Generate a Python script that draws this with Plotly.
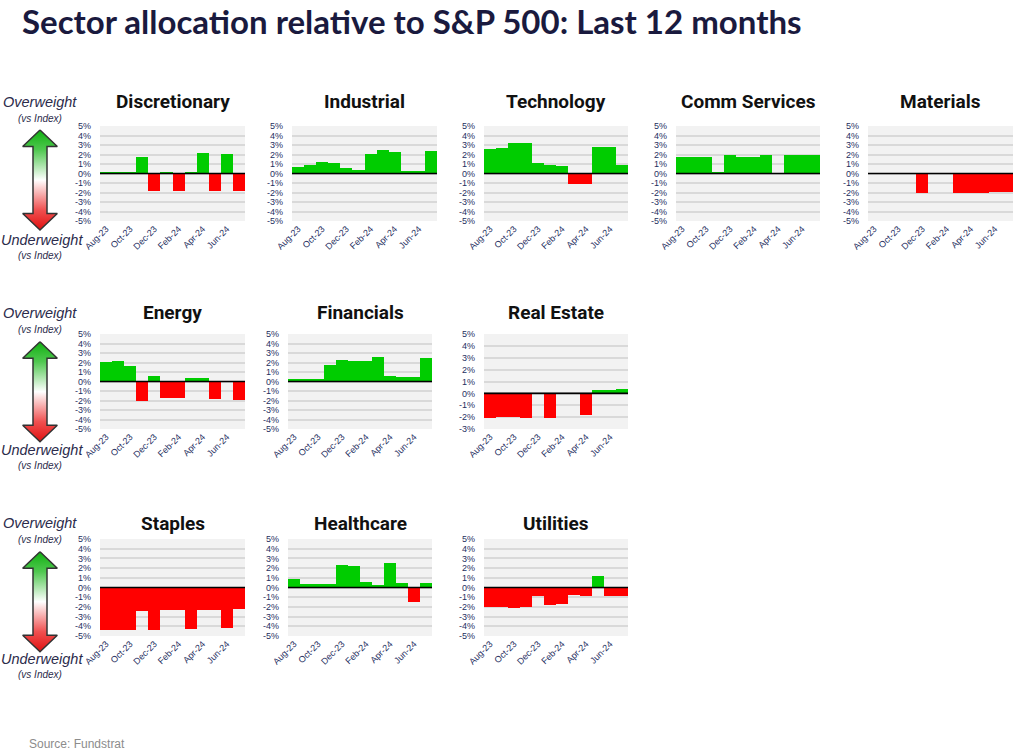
import plotly.graph_objects as go

# ---------------- data ----------------
months = ["Aug-23", "Sep-23", "Oct-23", "Nov-23", "Dec-23", "Jan-24",
          "Feb-24", "Mar-24", "Apr-24", "May-24", "Jun-24", "Jul-24"]
tick_months = ["Aug-23", "Oct-23", "Dec-23", "Feb-24", "Apr-24", "Jun-24"]

discretionary = [0.2, 0.2, 0.2, 1.7, -1.8, 0.2, -1.8, 0.2, 2.2, -1.8, 2.1, -1.8]
industrial = [0.7, 0.9, 1.2, 1.1, 0.6, 0.4, 2.1, 2.5, 2.3, 0.3, 0.3, 2.4]
technology = [2.6, 2.7, 3.2, 3.2, 1.1, 0.9, 0.8, -1.1, -1.1, 2.8, 2.8, 0.9]
comm_services = [1.7, 1.7, 1.7, 0.2, 2.0, 1.7, 1.7, 2.0, 0.0, 2.0, 1.9, 2.0]
materials = [0.0, 0.0, 0.0, 0.0, -2.1, 0.0, 0.0, -2.1, -2.1, -2.0, -1.9, -1.9]
energy = [2.1, 2.2, 1.6, -2.0, 0.6, -1.7, -1.7, 0.4, 0.4, -1.8, 0.0, -1.9]
financials = [0.25, 0.25, 0.3, 1.75, 2.25, 2.2, 2.2, 2.6, 0.6, 0.5, 0.5, 2.5]
real_estate = [-2.05, -2.0, -2.0, -2.1, 0.0, -2.05, 0.0, 0.0, -1.8, 0.3, 0.3, 0.35]
staples = [-4.4, -4.4, -4.4, -2.4, -4.35, -2.3, -2.3, -4.3, -2.3, -2.3, -4.15, -2.2]
healthcare = [0.85, 0.35, 0.35, 0.35, 2.3, 2.2, 0.55, 0.25, 2.5, 0.5, -1.5, 0.5]
utilities = [-2.05, -2.05, -2.15, -2.0, -0.9, -1.8, -1.7, -0.75, -0.85, 1.2, -0.85, -0.85]

y_ticks_full = [-5, -4, -3, -2, -1, 0, 1, 2, 3, 4, 5]
y_ticks_re = [-3, -2, -1, 0, 1, 2, 3, 4, 5]

title_text = "Sector allocation relative to S&P 500: Last 12 months"
source_text = "Source: Fundstrat"

# ---------------- layout helpers ----------------
PAGE_W, PAGE_H = 1024, 756
OFF = 0                      # body margin removed by post_script
W, H = PAGE_W - OFF, PAGE_H - OFF


def px(x):
    """page pixel x -> paper fraction"""
    return (x - OFF) / W


def py(y):
    """page pixel y -> paper fraction"""
    return 1 - (y - OFF) / H


GREEN = "#00cc00"
RED = "#ff0000"
TICK_COLOR = "#1f2f5f"
TICK_FONT = dict(family="Liberation Sans, Arial, sans-serif", size=9, color=TICK_COLOR)
PANEL_TITLE_FONT = dict(family="Roboto, sans-serif", size=19, color="#111111")

# rows: (panel top, panel bottom, panel-title y) in page pixels
rows = {1: (126, 221, 101), 2: (334, 429, 313), 3: (539, 636, 523)}

panels = [
    ("Discretionary", discretionary, 1, 100, 245, y_ticks_full),
    ("Industrial", industrial, 1, 292, 437, y_ticks_full),
    ("Technology", technology, 1, 484, 628, y_ticks_full),
    ("Comm Services", comm_services, 1, 676, 820, y_ticks_full),
    ("Materials", materials, 1, 868, 1013, y_ticks_full),
    ("Energy", energy, 2, 100, 245, y_ticks_full),
    ("Financials", financials, 2, 288, 432, y_ticks_full),
    ("Real Estate", real_estate, 2, 484, 628, y_ticks_re),
    ("Staples", staples, 3, 100, 245, y_ticks_full),
    ("Healthcare", healthcare, 3, 288, 432, y_ticks_full),
    ("Utilities", utilities, 3, 484, 628, y_ticks_full),
]

fig = go.Figure()
layout = {}
shapes = []
annotations = []

for i, (name, vals, row, x0, x1, yt) in enumerate(panels, start=1):
    y0, y1, ty = rows[row]
    xa = "x" if i == 1 else f"x{i}"
    ya = "y" if i == 1 else f"y{i}"
    xkey = "xaxis" if i == 1 else f"xaxis{i}"
    ykey = "yaxis" if i == 1 else f"yaxis{i}"
    fig.add_trace(go.Bar(
        x=months, y=vals, xaxis=xa, yaxis=ya, showlegend=False,
        marker=dict(color=[GREEN if v >= 0 else RED for v in vals], line=dict(width=0)),
        hovertemplate="%{x}: %{y}%<extra>" + name + "</extra>",
    ))
    layout[xkey] = dict(
        domain=[px(x0), px(x1)], anchor=ya, type="category",
        categoryorder="array", categoryarray=months,
        tickmode="array", tickvals=tick_months, ticktext=tick_months,
        tickangle=-45, tickfont=TICK_FONT, showgrid=False, zeroline=False,
        showline=False, ticks="", fixedrange=True, range=[-0.5, 11.5],
        automargin=False,
    )
    layout[ykey] = dict(
        domain=[py(y1), py(y0)], anchor=xa, range=[yt[0], yt[-1]],
        tickmode="array", tickvals=yt, ticktext=[f"{v}%" for v in yt],
        showgrid=True, gridcolor="#d9d9d9", gridwidth=1.5, zeroline=False,
        showline=False, ticks="", tickfont=TICK_FONT, ticklabelstandoff=8,
        fixedrange=True, automargin=False,
    )
    shapes.append(dict(type="rect", xref=f"{xa} domain", yref=f"{ya} domain",
                       x0=0, x1=1, y0=0, y1=1, fillcolor="#f2f2f2",
                       line=dict(width=0), layer="below"))
    shapes.append(dict(type="line", xref=f"{xa} domain", yref=ya,
                       x0=0, x1=1, y0=0, y1=0,
                       line=dict(color="#000000", width=1.6), layer="above"))
    annotations.append(dict(text=f"<b>{name}</b>", xref="paper", yref="paper",
                            x=px((x0 + x1) / 2), y=py(ty), showarrow=False,
                            xanchor="center", yanchor="middle", font=PANEL_TITLE_FONT))

# ---------------- overweight / underweight arrows ----------------
n = len(panels) + 1
ov_x, ov_y = f"x{n}", f"y{n}"
# overlay axis in page pixels: x = page x, y = PAGE_H - page y
layout[f"xaxis{n}"] = dict(domain=[0, 1], range=[OFF, PAGE_W], visible=False, fixedrange=True,
                           automargin=False, anchor=ov_y)
layout[f"yaxis{n}"] = dict(domain=[0, 1], range=[0, PAGE_H - OFF], visible=False, fixedrange=True,
                           automargin=False, anchor=ov_x)

arrow_rows = [(101.7, 130, 240), (313, 341.7, 450), (523, 551.7, 659)]
cx = 40
LABEL_COLOR = "#2b2b4b"
for lab_y, tip, under_y in arrow_rows:
    L = 100
    hb, hw, sw = 16.5, 17.3, 7.0
    xs = [cx, cx + hw, cx + sw, cx + sw, cx + hw, cx, cx - hw, cx - sw, cx - sw, cx - hw, cx]
    ys_px = [tip, tip + hb, tip + hb, tip + L - hb, tip + L - hb, tip + L,
             tip + L - hb, tip + L - hb, tip + hb, tip + hb, tip]
    fig.add_trace(go.Scatter(
        x=xs, y=[PAGE_H - v for v in ys_px], xaxis=ov_x, yaxis=ov_y, mode="lines",
        fill="toself", line=dict(color="#333333", width=1.5),
        fillgradient=dict(type="vertical",
                          colorscale=[[0, "#e01010"], [0.2, "#f05050"], [0.5, "#ffffff"],
                                      [0.8, "#50c850"], [1, "#10b010"]]),
        showlegend=False, hoverinfo="skip",
    ))
    annotations += [
        dict(text="<i>Overweight</i>", x=px(cx), y=py(lab_y)),
        dict(text="<i>(vs Index)</i>", x=px(cx), y=py(lab_y + 16.5),
             font=dict(family="Liberation Sans, Arial, sans-serif", size=10, color=LABEL_COLOR)),
        dict(text="<i>Underweight</i>", x=px(cx + 2), y=py(under_y)),
        dict(text="<i>(vs Index)</i>", x=px(cx), y=py(under_y + 15.5),
             font=dict(family="Liberation Sans, Arial, sans-serif", size=10, color=LABEL_COLOR)),
    ]

for a in annotations:
    a.setdefault("xref", "paper")
    a.setdefault("yref", "paper")
    a.setdefault("showarrow", False)
    a.setdefault("xanchor", "center")
    a.setdefault("yanchor", "middle")
    a.setdefault("font", dict(family="Liberation Sans, Arial, sans-serif", size=14.5, color=LABEL_COLOR))

annotations.append(dict(text=f"<b>{title_text}</b>", xref="paper", yref="paper",
                        x=px(20), y=py(21), xanchor="left", yanchor="middle", showarrow=False,
                        font=dict(family="Lato, Open Sans, sans-serif", size=33, color="#1a1a3e")))
annotations.append(dict(text=source_text, xref="paper", yref="paper",
                        x=px(27), y=py(744), xanchor="left", yanchor="middle", showarrow=False,
                        font=dict(family="Liberation Sans, Arial, sans-serif", size=12, color="#8c8c8c")))

fig.update_layout(
    width=W, height=H, margin=dict(l=0, r=0, t=0, b=0, autoexpand=False),
    paper_bgcolor="white", plot_bgcolor="rgba(0,0,0,0)",
    bargap=0, shapes=shapes, annotations=annotations, **layout,
)

fig.write_html("out.html",
               config={"displayModeBar": False},
               post_script="document.body.style.margin='0';document.body.style.overflow='hidden';")
